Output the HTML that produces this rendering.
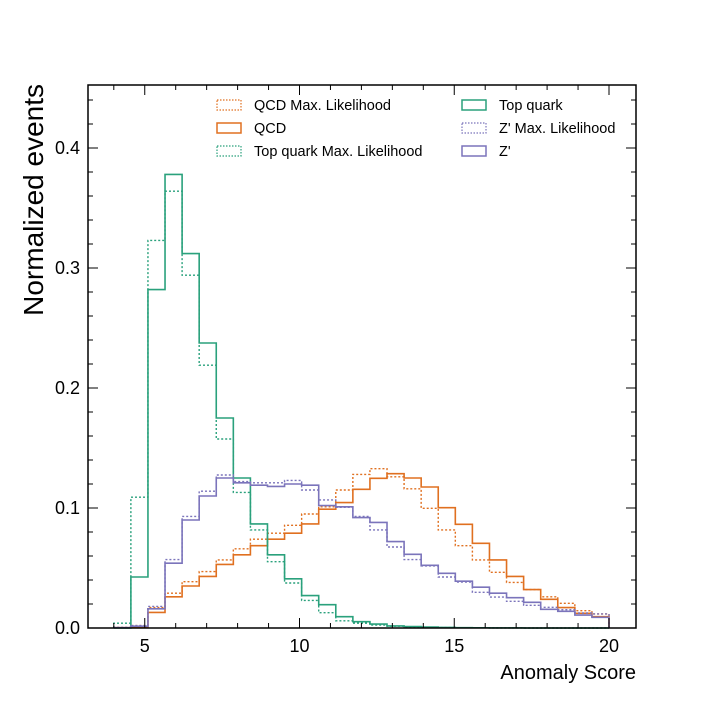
<!DOCTYPE html>
<html><head><meta charset="utf-8"><style>
body{margin:0;background:#fff}
svg text{font-family:"Liberation Sans",Arial,sans-serif}
</style></head><body>
<svg id="chart" width="706" height="706" viewBox="0 0 706 706" xmlns="http://www.w3.org/2000/svg">
<rect width="706" height="706" fill="#fff"/>
<g id="marks"></g>
<g id="axes"></g>
<text transform="translate(43,84) rotate(-90)" text-anchor="end" font-size="28" fill="#000">Normalized events</text>
<text x="636" y="679" text-anchor="end" font-size="20" fill="#000">Anomaly Score</text>
<g id="legend"></g>
</svg>
<script>
const binLo = 4, binHi = 20, nBins = 29;
const qcdML = [0.0005,0.002,0.017,0.029,0.0386,0.047,0.0567,0.066,0.074,0.079,0.0856,0.095,0.101,0.115,0.128,0.1328,0.126,0.116,0.0997,0.0817,0.0686,0.0567,0.0464,0.038,0.032,0.026,0.0206,0.0144,0.0117];
const qcd = [0.0003,0.001,0.013,0.026,0.035,0.043,0.053,0.061,0.0686,0.074,0.079,0.0867,0.099,0.1045,0.1156,0.1247,0.1286,0.125,0.1175,0.1003,0.0864,0.0706,0.0567,0.043,0.032,0.0239,0.017,0.0122,0.0094];
const topQuarkML = [0.004,0.109,0.323,0.364,0.294,0.219,0.1575,0.113,0.0817,0.0553,0.0375,0.023,0.0128,0.006,0.004,0.0025,0.0015,0.001,0.0006,0.0004,0.0003,0.0002,0.0001,0.0001,0,0,0,0,0];
const topQuark = [0,0.0425,0.282,0.378,0.312,0.2375,0.175,0.125,0.0867,0.061,0.041,0.027,0.0194,0.0094,0.0053,0.0033,0.0017,0.0012,0.0008,0.0005,0.0003,0.0002,0.0001,0.0001,0,0,0,0,0];
const zpML = [0.0005,0.002,0.018,0.057,0.093,0.114,0.1275,0.122,0.121,0.121,0.123,0.115,0.1067,0.1006,0.093,0.0817,0.0675,0.057,0.0517,0.0425,0.0383,0.0297,0.0258,0.0222,0.0189,0.0172,0.0153,0.0125,0.0117];
const zp = [0.0003,0.0015,0.016,0.054,0.09,0.11,0.125,0.121,0.119,0.118,0.12,0.119,0.102,0.101,0.092,0.088,0.072,0.0614,0.0522,0.0456,0.039,0.034,0.029,0.0253,0.0214,0.0156,0.0139,0.0108,0.0089];
const xTicks = [5,10,15,20];
const yTicks = [0,0.1,0.2,0.3,0.4];
const yTickLabels = ["0.0","0.1","0.2","0.3","0.4"];

const NS="http://www.w3.org/2000/svg";
const L=88,R=636,T=85,B=628;
const xs=v=>299.5+(v-10)*30.95;
const ys=v=>628-v*1200;
const ORANGE="#e07020",GREEN="#2aa17c",PURPLE="#7b74bb";
function mk(tag,attrs,parent){const e=document.createElementNS(NS,tag);for(const k in attrs)e.setAttribute(k,attrs[k]);parent.appendChild(e);return e;}
const marks=document.getElementById('marks');
function hist(vals,color,dashed,name){
  const w=(binHi-binLo)/nBins;
  let d="M"+xs(binLo)+","+ys(0);
  vals.forEach((v,i)=>{const a=xs(binLo+i*w),b=xs(binLo+(i+1)*w);d+=" L"+a+","+ys(v)+" L"+b+","+ys(v);});
  d+=" L"+xs(binHi)+","+ys(0);
  const p=mk('path',{d:d,fill:'none',stroke:color,'stroke-width':dashed?1.4:1.6,'stroke-dasharray':dashed?'2,2':'none'},marks);
  
  
}
hist(qcdML,ORANGE,true,'qcd-max-likelihood-histogram');
hist(qcd,ORANGE,false,'qcd-histogram');
hist(topQuarkML,GREEN,true,'top-quark-max-likelihood-histogram');
hist(topQuark,GREEN,false,'top-quark-histogram');
hist(zpML,PURPLE,true,'zprime-max-likelihood-histogram');
hist(zp,PURPLE,false,'zprime-histogram');

const ax=document.getElementById('axes');
const fr=mk('rect',{x:L,y:T,width:R-L,height:B-T,fill:'none',stroke:'#000','stroke-width':1.5},ax);


for(let v=4;v<=20;v++){
  const x=xs(v),len=xTicks.includes(v)?10:5;
  mk('line',{x1:x,y1:B,x2:x,y2:B-len,stroke:'#000','stroke-width':1},ax);
  mk('line',{x1:x,y1:T,x2:x,y2:T+len,stroke:'#000','stroke-width':1},ax);
}
xTicks.forEach(v=>{
  const t=mk('text',{x:xs(v),y:652,'text-anchor':'middle','font-size':18},ax);
  t.textContent=v;
  
  
});
for(let k=0;k<=22;k++){
  const v=k*0.02,y=ys(v),len=(k%5===0)?10:5;
  if(y<T)break;
  mk('line',{x1:L,y1:y,x2:L+len,y2:y,stroke:'#000','stroke-width':1},ax);
  mk('line',{x1:R,y1:y,x2:R-len,y2:y,stroke:'#000','stroke-width':1},ax);
}
yTicks.forEach((v,i)=>{
  const t=mk('text',{x:80,y:ys(v)+6,'text-anchor':'end','font-size':18},ax);
  t.textContent=yTickLabels[i];
  
  
});

const lg=document.getElementById('legend');
const entries=[
 [217,105,ORANGE,true,"QCD Max. Likelihood"],
 [217,128,ORANGE,false,"QCD"],
 [217,151,GREEN,true,"Top quark Max. Likelihood"],
 [462,105,GREEN,false,"Top quark"],
 [462,128,PURPLE,true,"Z' Max. Likelihood"],
 [462,151,PURPLE,false,"Z'"]];
entries.forEach(e=>{
  const g=mk('g',{},lg);
  
  
  mk('rect',{x:e[0],y:e[1]-5,width:24,height:10,fill:'none',stroke:e[2],'stroke-width':e[3]?1.2:1.5,'stroke-dasharray':e[3]?'1.5,1.5':'none'},g);
  const t=mk('text',{x:e[0]+37,y:e[1]+5,'font-size':14.5,fill:'#000'},g);
  t.textContent=e[4];
});
</script>
</body></html>
